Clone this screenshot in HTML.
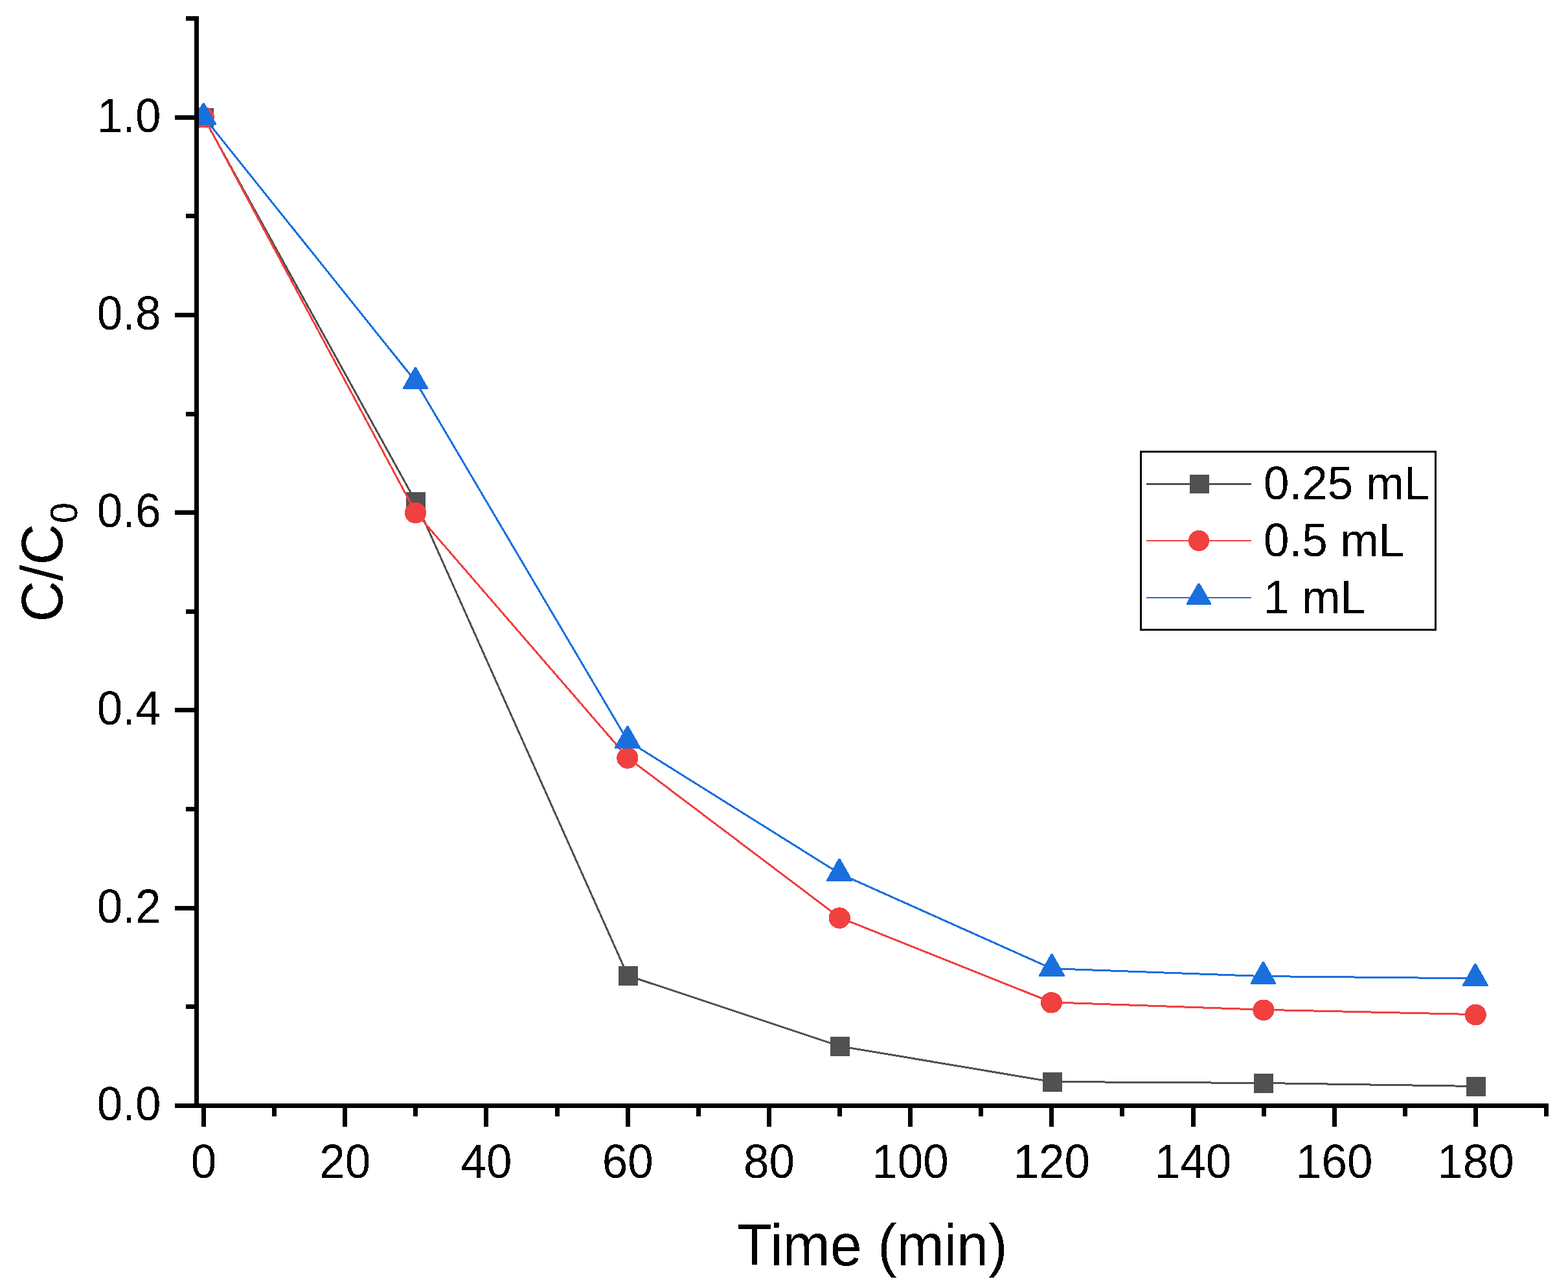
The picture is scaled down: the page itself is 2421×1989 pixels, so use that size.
<!DOCTYPE html>
<html lang="en">
<head>
<meta charset="utf-8">
<title>C/C0 versus Time (min)</title>
<style>
html,body{margin:0;padding:0;background:#fff;}
body{width:2421px;height:1989px;overflow:hidden;}
svg{display:block;}
text{font-family:"Liberation Sans",Arial,Helvetica,sans-serif;fill:#000;}
.crisp{shape-rendering:crispEdges;}
</style>
</head>
<body>
<svg width="2421" height="1989" viewBox="0 0 2421 1989">
<defs>
<clipPath id="plot"><rect x="303" y="0" width="2118" height="1708"/></clipPath>
<filter id="bw" x="-5%" y="-5%" width="110%" height="110%" color-interpolation-filters="sRGB"><feComponentTransfer><feFuncA type="discrete" tableValues="0 1"/></feComponentTransfer></filter>
</defs>
<rect width="2421" height="1989" fill="#fff"/>
<g class="crisp" clip-path="url(#plot)">
<polyline points="314.5,181.5 641.8,774.5 969.2,1506.5 1296.5,1615.5 1623.8,1670.5 1951.2,1672.5 2278.5,1677.5" fill="none" stroke="#515151" stroke-width="3" stroke-linejoin="round"/>
<rect x="300" y="167" width="30" height="30" fill="#515151"/>
<rect x="627" y="760" width="30" height="30" fill="#515151"/>
<rect x="955" y="1492" width="30" height="30" fill="#515151"/>
<rect x="1282" y="1601" width="30" height="30" fill="#515151"/>
<rect x="1610" y="1656" width="30" height="30" fill="#515151"/>
<rect x="1936" y="1658" width="30" height="30" fill="#515151"/>
<rect x="2264" y="1663" width="30" height="30" fill="#515151"/>
<polyline points="314.5,180.6 641.8,791.5 969.2,1170.1 1296.5,1417.1 1623.8,1547.8 1951.2,1559.3 2278.5,1566.6" fill="none" stroke="#f14040" stroke-width="3" stroke-linejoin="round"/>
<ellipse cx="314.2" cy="181.1" rx="16.6" ry="16.3" fill="#f14040"/>
<ellipse cx="641.5" cy="792.0" rx="16.6" ry="16.3" fill="#f14040"/>
<ellipse cx="968.9" cy="1170.6" rx="16.6" ry="16.3" fill="#f14040"/>
<ellipse cx="1296.2" cy="1417.6" rx="16.6" ry="16.3" fill="#f14040"/>
<ellipse cx="1623.5" cy="1548.3" rx="16.6" ry="16.3" fill="#f14040"/>
<ellipse cx="1950.9" cy="1559.8" rx="16.6" ry="16.3" fill="#f14040"/>
<ellipse cx="2278.2" cy="1567.1" rx="16.6" ry="16.3" fill="#f14040"/>
<polyline points="314.5,180.6 641.8,589.2 969.2,1144.1 1296.5,1349.1 1623.8,1495.7 1951.2,1507.6 2278.5,1510.9" fill="none" stroke="#1a6fdf" stroke-width="3" stroke-linejoin="round"/>
<polygon points="312.9,159.0 315.6,159.0 334.0,191.0 334.0,193.0 294.5,193.0 294.5,191.0" fill="#1a6fdf"/>
<polygon points="640.1,567.0 642.9,567.0 661.0,599.0 661.0,601.0 622.0,601.0 622.0,599.0" fill="#1a6fdf"/>
<polygon points="967.6,1121.0 970.4,1121.0 989.0,1154.0 989.0,1156.0 949.0,1156.0 949.0,1154.0" fill="#1a6fdf"/>
<polygon points="1294.6,1326.0 1297.4,1326.0 1316.0,1359.0 1316.0,1361.0 1276.0,1361.0 1276.0,1359.0" fill="#1a6fdf"/>
<polygon points="1622.6,1473.0 1625.4,1473.0 1644.0,1506.0 1644.0,1508.0 1604.0,1508.0 1604.0,1506.0" fill="#1a6fdf"/>
<polygon points="1949.1,1485.0 1951.9,1485.0 1970.0,1517.6 1970.0,1519.6 1931.0,1519.6 1931.0,1517.6" fill="#1a6fdf"/>
<polygon points="2276.4,1488.0 2279.2,1488.0 2297.6,1521.0 2297.6,1523.0 2258.0,1523.0 2258.0,1521.0" fill="#1a6fdf"/>
</g>
<g class="crisp" fill="#000">
<rect x="300" y="25" width="7" height="1686"/>
<rect x="270" y="1704" width="2121" height="7"/>
<rect x="287" y="1551" width="13" height="7"/>
<rect x="270" y="1399" width="30" height="7"/>
<rect x="287" y="1246" width="13" height="7"/>
<rect x="270" y="1093" width="30" height="7"/>
<rect x="287" y="941" width="13" height="7"/>
<rect x="270" y="788" width="30" height="7"/>
<rect x="287" y="636" width="13" height="7"/>
<rect x="270" y="483" width="30" height="7"/>
<rect x="287" y="330" width="13" height="7"/>
<rect x="270" y="178" width="30" height="7"/>
<rect x="287" y="25" width="13" height="7"/>
<rect x="311" y="1711" width="7" height="29"/>
<rect x="420" y="1711" width="7" height="13"/>
<rect x="529" y="1711" width="7" height="29"/>
<rect x="638" y="1711" width="7" height="13"/>
<rect x="747" y="1711" width="7" height="29"/>
<rect x="857" y="1711" width="7" height="13"/>
<rect x="966" y="1711" width="7" height="29"/>
<rect x="1075" y="1711" width="7" height="13"/>
<rect x="1184" y="1711" width="7" height="29"/>
<rect x="1293" y="1711" width="7" height="13"/>
<rect x="1402" y="1711" width="7" height="29"/>
<rect x="1511" y="1711" width="7" height="13"/>
<rect x="1620" y="1711" width="7" height="29"/>
<rect x="1729" y="1711" width="7" height="13"/>
<rect x="1839" y="1711" width="7" height="29"/>
<rect x="1948" y="1711" width="7" height="13"/>
<rect x="2057" y="1711" width="7" height="29"/>
<rect x="2166" y="1711" width="7" height="13"/>
<rect x="2275" y="1711" width="7" height="29"/>
<rect x="2384" y="1711" width="7" height="13"/>
</g>
<g filter="url(#bw)">
<text transform="translate(248.4,1730.0) scale(1,1.04)" font-size="71px" text-anchor="end">0.0</text>
<text transform="translate(248.4,1424.7) scale(1,1.04)" font-size="71px" text-anchor="end">0.2</text>
<text transform="translate(248.4,1119.5) scale(1,1.04)" font-size="71px" text-anchor="end">0.4</text>
<text transform="translate(248.4,814.2) scale(1,1.04)" font-size="71px" text-anchor="end">0.6</text>
<text transform="translate(248.4,508.9) scale(1,1.04)" font-size="71px" text-anchor="end">0.8</text>
<text transform="translate(248.4,203.6) scale(1,1.04)" font-size="71px" text-anchor="end">1.0</text>
<text transform="translate(314.5,1819.0) scale(1,1.04)" font-size="71px" text-anchor="middle">0</text>
<text transform="translate(532.7,1819.0) scale(1,1.04)" font-size="71px" text-anchor="middle">20</text>
<text transform="translate(750.9,1819.0) scale(1,1.04)" font-size="71px" text-anchor="middle">40</text>
<text transform="translate(969.2,1819.0) scale(1,1.04)" font-size="71px" text-anchor="middle">60</text>
<text transform="translate(1187.4,1819.0) scale(1,1.04)" font-size="71px" text-anchor="middle">80</text>
<text transform="translate(1405.6,1819.0) scale(1,1.04)" font-size="71px" text-anchor="middle">100</text>
<text transform="translate(1623.8,1819.0) scale(1,1.04)" font-size="71px" text-anchor="middle">120</text>
<text transform="translate(1842.1,1819.0) scale(1,1.04)" font-size="71px" text-anchor="middle">140</text>
<text transform="translate(2060.3,1819.0) scale(1,1.04)" font-size="71px" text-anchor="middle">160</text>
<text transform="translate(2278.5,1819.0) scale(1,1.04)" font-size="71px" text-anchor="middle">180</text>
</g>
<g filter="url(#bw)">
<text transform="translate(1347.0,1953.5) scale(1,1.035)" font-size="88px" text-anchor="middle">Time (min)</text>
<text transform="translate(96,960.5) rotate(-90) scale(1,1.035)" font-size="88px">C/C<tspan font-size="57.5px" dx="1" dy="22.6">0</tspan></text>
</g>
<g class="crisp">
<rect x="1761.5" y="697.5" width="455" height="275" fill="#fff" stroke="#000" stroke-width="3"/>
<rect x="1770" y="746" width="162" height="3" fill="#515151"/>
<rect x="1770" y="834" width="162" height="2" fill="#f14040"/>
<rect x="1770" y="922" width="162" height="2" fill="#1a6fdf"/>
<rect x="1837" y="733" width="30" height="29" fill="#515151"/>
<ellipse cx="1851.0" cy="835.0" rx="16.0" ry="16.0" fill="#f14040"/>
<polygon points="1849.6,900.7 1852.4,900.7 1870.2,932.0 1870.2,934.0 1831.8,934.0 1831.8,932.0" fill="#1a6fdf"/>
</g>
<g filter="url(#bw)">
<text transform="translate(1951.0,771.0) scale(1,1.02)" font-size="71px" text-anchor="start">0.25 mL</text>
<text transform="translate(1951.0,859.0) scale(1,1.02)" font-size="71px" text-anchor="start">0.5 mL</text>
<text transform="translate(1951.0,947.0) scale(1,1.02)" font-size="71px" text-anchor="start">1 mL</text>
</g>
</svg>
</body>
</html>
